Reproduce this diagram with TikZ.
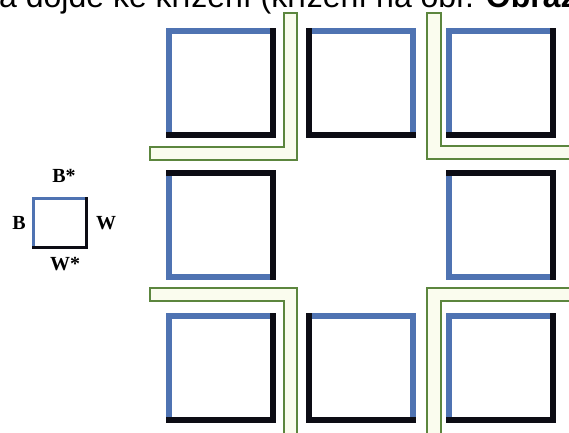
\documentclass[tikz,border=0pt]{standalone}
\usepackage{fontspec}
\setmainfont{Liberation Serif}
\newfontfamily\bodysans{Liberation Sans}
\definecolor{tileblue}{RGB}{79,115,178}
\definecolor{tileblack}{RGB}{12,12,20}
\definecolor{stripgreen}{RGB}{92,134,62}
\definecolor{stripfill}{RGB}{250,252,238}
\tikzset{
  tile edge/.style={line width=6pt,line cap=rect},
  tile blue/.style={tile edge,draw=tileblue},
  tile black/.style={tile edge,draw=tileblack},
  strip/.style={draw=stripgreen,line width=1.8pt,fill=stripfill},
  key edge/.style={line width=3pt,line cap=rect},
  key label/.style={font=\fontsize{20}{20}\selectfont\bfseries,inner sep=0pt},
  tile nw/.pic={
    \draw[tile blue] (0,104)--(0,0)--(104,0);
    \draw[tile black] (104,0)--(104,104)--(0,104);
  },
  tile ne/.pic={
    \draw[tile blue] (0,0)--(104,0)--(104,104);
    \draw[tile black] (0,0)--(0,104)--(104,104);
  },
  tile sw/.pic={
    \draw[tile blue] (0,0)--(0,104)--(104,104);
    \draw[tile black] (0,0)--(104,0)--(104,104);
  }
}

\begin{document}
\begin{tikzpicture}[x=1pt,y=-1pt]
  \clip (0,0) rectangle (569,432);
  \fill[white] (0,0) rectangle (569,432);

  % cut-off line of text above the figure
  \node[font=\bodysans\fontsize{32}{32}\selectfont,anchor=base west,inner sep=0pt]
    (caption) at (-1,7) {a dojde ke křížení (křížení na obr. \textbf{Obrázek}};

  % green channels
  \draw[strip] (284,13)--(297,13)--(297,160)--(150,160)--(150,147)--(284,147)--cycle;
  \draw[strip] (427,13)--(441,13)--(441,146)--(580,146)--(580,159)--(427,159)--cycle;
  \draw[strip] (150,288)--(297,288)--(297,440)--(284,440)--(284,301)--(150,301)--cycle;
  \draw[strip] (427,440)--(427,288)--(580,288)--(580,301)--(441,301)--(441,440)--cycle;

  % tiles
  \foreach \tx/\ty/\corner in {169/31/nw,309/31/ne,449/31/nw,
                               169/173/sw,449/173/sw,
                               169/316/nw,309/316/ne,449/316/nw}
    \pic at (\tx,\ty) {tile \corner};

  % key
  \draw[key edge,draw=tileblue] (33.5,247.5)--(33.5,198.5)--(86.5,198.5);
  \draw[key edge,draw=tileblack] (86.5,198.5)--(86.5,247.5)--(33.5,247.5);
  \node[key label] (keyBs) at (64,176) {B*};
  \node[key label] (keyB) at (19,223) {B};
  \node[key label] (keyW) at (106,223) {W};
  \node[key label] (keyWs) at (65,264) {W*};
\end{tikzpicture}
\end{document}
